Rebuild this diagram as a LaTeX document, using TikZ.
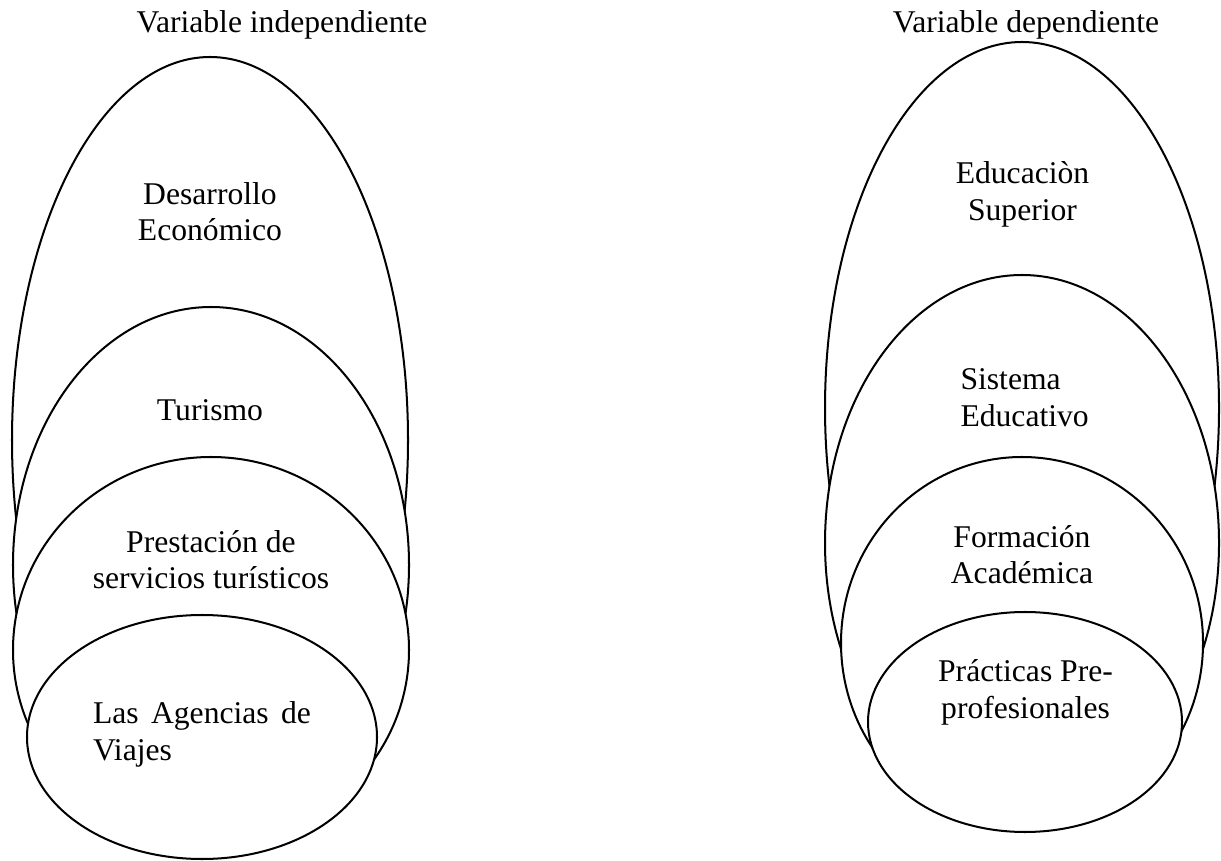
\documentclass[tikz,border=0pt]{standalone}
\usepackage{fontspec}
\setmainfont{Liberation Serif}
\begin{document}
\begin{tikzpicture}[elipse/.style={thick, black, fill=white},
	texto/.style={font=\fontsize{12.6}{14.6}\selectfont, inner sep=0pt, align=center}]
	\useasboundingbox (0,0) rectangle (17.094,12.04);
	% variable independiente
	\draw [elipse] (2.94,5.88) ellipse (2.772 and 5.362);
	\draw [elipse] (2.954,4.13) ellipse (2.772 and 3.612);
	\draw [elipse] (2.954,2.94) ellipse (2.772 and 2.702);
	\draw [elipse] (2.828,1.722) ellipse (2.45 and 1.708);
	\node [texto] (vind) at (3.948,11.696) {Variable independiente};
	\node [texto] (desarrollo) at (2.94,9.076) {Desarrollo\\Económico};
	\node [texto] (turismo) at (2.94,6.30) {Turismo};
	\node [texto] (prestacion) at (2.954,4.204) {Prestación de\\servicios turísticos};
	\node [texto, text width=86.8pt, align=left] (agencias) at (2.828,1.756) {Las\hfill Agencias\hfill de\\Viajes};
	% variable dependiente
	\draw [elipse] (14.308,6.328) ellipse (2.758 and 5.124);
	\draw [elipse] (14.308,4.438) ellipse (2.758 and 3.752);
	\draw [elipse] (14.308,3.038) ellipse (2.534 and 2.604);
	\draw [elipse] (14.35,1.932) ellipse (2.198 and 1.54);
	\node [texto] (vdep) at (14.364,11.696) {Variable dependiente};
	\node [texto] (educacion) at (14.315,9.316) {Educaciòn\\Superior};
	\node [texto, align=left, anchor=west] (sistema) at (13.44,6.472) {Sistema\\Educativo};
	\node [texto] (formacion) at (14.308,4.274) {Formación\\Académica};
	\node [texto] (practicas) at (14.357,2.344) {Prácticas Pre-\\profesionales};
\end{tikzpicture}
\end{document}
